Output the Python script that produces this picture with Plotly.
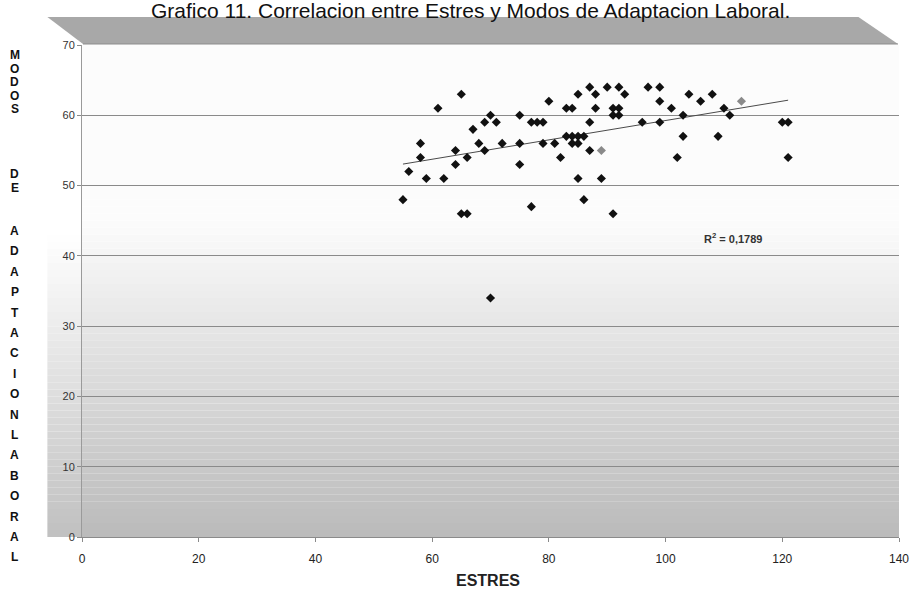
import numpy as np
import plotly.graph_objects as go

# ---------------- data ----------------
estres = [55, 56, 58, 58, 59, 61, 62, 64, 64, 65, 65, 66, 66, 67, 68, 69, 69, 70, 70, 71,
          72, 75, 75, 75, 77, 77, 78, 79, 79, 80, 81, 82, 83, 84, 83, 84, 85, 86, 84, 85,
          85, 85, 86, 87, 87, 87, 88, 88, 89, 90, 91, 92, 91, 92, 91, 92, 93, 96, 97, 99,
          99, 99, 101, 102, 103, 103, 104, 106, 108, 109, 110, 111, 120, 121, 121]
modos = [48, 52, 56, 54, 51, 61, 51, 55, 53, 63, 46, 46, 54, 58, 56, 59, 55, 60, 34, 59,
         56, 60, 56, 53, 59, 47, 59, 59, 56, 62, 56, 54, 61, 61, 57, 57, 57, 57, 56, 56,
         63, 51, 48, 64, 59, 55, 63, 61, 51, 64, 61, 61, 60, 60, 46, 64, 63, 59, 64, 64,
         62, 59, 61, 54, 60, 57, 63, 62, 63, 57, 61, 60, 59, 59, 54]
faded_estres = [89, 113]
faded_modos = [55, 62]

x_ticks = [0, 20, 40, 60, 80, 100, 120, 140]
y_ticks = [0, 10, 20, 30, 40, 50, 60, 70]

title_text = "Grafico 11. Correlacion entre Estres y Modos de Adaptacion Laboral."
x_title = "ESTRES"
y_title = "MODOS   DE   ADAPTACIONLABORAL"
r2_text = "<b>R<sup>2</sup> = 0,1789</b>"

# ---------------- geometry helpers (pixel -> paper) ----------------
W, H = 921, 593
L, R, T, B = 82, 908, 45, 537


def px(x):
    return (x - L) / (R - L)


def py(y):
    return (B - y) / (B - T)


fig = go.Figure()

# regression line computed from data
all_x = np.array(estres + faded_estres, dtype=float)
all_y = np.array(modos + faded_modos, dtype=float)
slope, intercept = np.polyfit(all_x, all_y, 1)
xl = np.array([all_x.min(), all_x.max()])
fig.add_trace(go.Scatter(x=xl, y=slope * xl + intercept, mode="lines",
                         line=dict(color="#4a4a4a", width=1), hoverinfo="skip",
                         showlegend=False))

fig.add_trace(go.Scatter(x=estres, y=modos, mode="markers",
                         marker=dict(symbol="diamond", size=7, color="#111111"),
                         showlegend=False))
fig.add_trace(go.Scatter(x=faded_estres, y=faded_modos, mode="markers",
                         marker=dict(symbol="diamond", size=7, color="#8a8a8a"),
                         showlegend=False))

shapes = []
# background gradient inside plot area
nb = 70
for i in range(nb):
    v0 = 70 * i / nb
    v1 = 70 * (i + 1) / nb
    vm = (v0 + v1) / 2
    if vm >= 45:
        g = 252
    else:
        g = int(round(252 - (45 - vm) / 45 * (252 - 186)))
    col = f"rgb({g},{g},{g})"
    shapes.append(dict(type="rect", xref="paper", yref="y", x0=0, x1=1, y0=v0, y1=v1,
                       fillcolor=col, line=dict(width=0), layer="below"))
    # left side wall strip
    gs = min(g + 6, 255)
    shapes.append(dict(type="rect", xref="paper", yref="y", x0=px(47), x1=0, y0=v0, y1=v1,
                       fillcolor=f"rgb({gs},{gs},{gs})",
                       line=dict(width=0), layer="below"))

# top grey band (parallelogram)
path = (f"M {px(47)},{py(17)} L {px(867)},{py(17)} L {px(907)},{py(44)} "
        f"L {px(83)},{py(44)} Z")
shapes.append(dict(type="path", xref="paper", yref="paper", path=path,
                   fillcolor="#a8a8a8", line=dict(width=0), layer="above"))
shapes.append(dict(type="line", xref="paper", yref="paper", x0=px(83), x1=px(907),
                   y0=py(44), y1=py(44), line=dict(color="#8c8c8c", width=1)))

annotations = []
annotations.append(dict(text=title_text, xref="paper", yref="paper", x=px(475), y=py(24),
                        xanchor="center", yanchor="bottom", showarrow=False,
                        font=dict(family="Liberation Sans, Arial", size=21, color="#111111")))
annotations.append(dict(text=f"<b>{x_title}</b>", xref="paper", yref="paper", x=px(492),
                        y=py(580), xanchor="center", yanchor="middle", showarrow=False,
                        font=dict(family="Liberation Sans, Arial", size=16, color="#222222")))
annotations.append(dict(text=r2_text, x=111.5, y=42.6, xanchor="center", yanchor="middle",
                        showarrow=False,
                        font=dict(family="Liberation Sans, Arial", size=11, color="#333333")))

# stacked vertical y-axis title letters
rows = []
ypos = 55.0
for ch in "MODOS":
    rows.append((ch, ypos))
    ypos += 13.6
ypos = 174.0
for ch in "DE":
    rows.append((ch, ypos))
    ypos += 13.6
ypos = 231.0
for ch in "ADAPTACIONLABORAL":
    rows.append((ch, ypos))
    ypos += 20.4
for ch, yy in rows:
    annotations.append(dict(text=f"<b>{ch}</b>", xref="paper", yref="paper", x=px(14), y=py(yy),
                            xanchor="center", yanchor="middle", showarrow=False,
                            font=dict(family="Liberation Sans, Arial", size=12, color="#111111")))

fig.update_layout(
    width=W, height=H,
    margin=dict(l=L, r=W - R, t=T, b=H - B, pad=0),
    paper_bgcolor="white",
    plot_bgcolor="rgba(0,0,0,0)",
    shapes=shapes,
    annotations=annotations,
    showlegend=False,
    xaxis=dict(range=[0, 140], tickvals=x_ticks, ticktext=[str(v) for v in x_ticks],
               showgrid=False, zeroline=False, showline=True, linecolor="#8a8a8a",
               ticks="outside", ticklen=4, tickcolor="#8a8a8a", ticklabelstandoff=7,
               tickfont=dict(family="Liberation Sans, Arial", size=12, color="#222222")),
    yaxis=dict(range=[0, 70], tickvals=y_ticks, ticktext=[str(v) for v in y_ticks],
               showgrid=True, gridcolor="#8a8a8a", gridwidth=1, zeroline=False,
               showline=True, linecolor="#9a9a9a", ticks="outside", ticklen=4,
               tickcolor="#8a8a8a",
               tickfont=dict(family="Liberation Sans, Arial", size=11, color="#333333")),
)

fig.write_html("out.html")
